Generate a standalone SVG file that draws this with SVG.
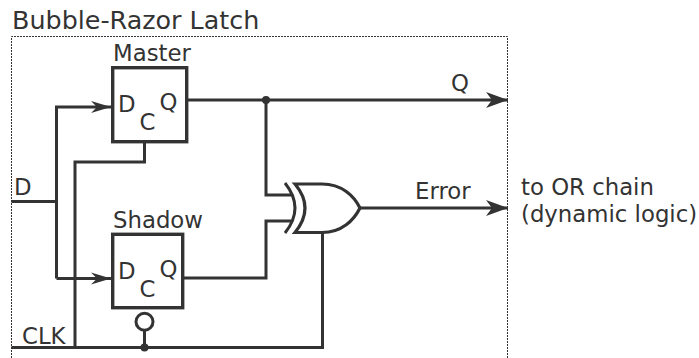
<svg xmlns="http://www.w3.org/2000/svg" width="699" height="358" viewBox="0 0 699 358">
<defs>
<style>
text{font-family:"DejaVu Sans","Liberation Sans",sans-serif;fill:#333;font-size:22.8px}
.w{fill:none;stroke:#333;stroke-width:3;stroke-linejoin:miter}
.box{fill:#fff;stroke:#333;stroke-width:3.4}
.dot{fill:#333}
</style>
<marker id="big" markerUnits="userSpaceOnUse" markerWidth="30" markerHeight="20" viewBox="-24 -10 26 20" refX="0" refY="0" orient="auto">
<path d="M0,0 L-22,-8 L-16,0 L-22,8 Z" fill="#333"/>
</marker>
<marker id="small" markerUnits="userSpaceOnUse" markerWidth="26" markerHeight="16" viewBox="-22 -8 24 16" refX="0" refY="0" orient="auto">
<path d="M0,0 L-20,-6 L-14,0 L-20,6 Z" fill="#333"/>
</marker>
</defs>
<rect width="699" height="358" fill="#fff"/>
<text x="12" y="29" style="font-size:25.4px">Bubble-Razor Latch</text>
<path d="M11.5,370 V36.5 H507.5 V370" fill="none" stroke="#333" stroke-width="1" stroke-dasharray="2,1"/>

<g id="connectors">
<path class="w" d="M11.5,201.5 H56.5"/>
<path class="w" d="M56.5,278.5 V107 H111" marker-end="url(#small)" stroke-width="2.8"/>
<path class="w" d="M56.5,278.5 H111" marker-end="url(#small)" stroke-width="2.8"/>
<path class="w" d="M144.5,142 V162 H75 V347.5"/>
<path class="w" d="M11.5,347.5 H322.5 V232"/>
<path class="w" d="M144.5,330 V347.5"/>
<path class="w" d="M186.5,100 H508" marker-end="url(#big)"/>
<path class="w" d="M266,100 V195 H292"/>
<path class="w" d="M182.5,278 H266 V221 H292"/>
<path class="w" d="M360,208 H508" marker-end="url(#big)"/>
<circle class="dot" cx="266" cy="100" r="4"/>
<circle class="dot" cx="144.5" cy="347.5" r="4"/>
</g>

<g id="master">
<rect class="box" x="112.7" y="67.7" width="74" height="74"/>
<text x="113" y="61">Master</text>
<text x="118" y="111.5">D</text>
<text x="139.5" y="130">C</text>
<text x="159.5" y="109.5">Q</text>
</g>

<g id="shadow">
<rect class="box" x="112.7" y="234.3" width="70" height="73.4"/>
<text x="113" y="227.5">Shadow</text>
<text x="118" y="278.5">D</text>
<text x="139.5" y="296.5">C</text>
<text x="159.5" y="276.5">Q</text>
<circle cx="144.5" cy="321.7" r="8.5" fill="#fff" stroke="#333" stroke-width="3"/>
</g>

<g id="xor">
<path class="w" d="M285,183 Q305,208 285,233" stroke-width="3.2"/>
<path d="M295,184 L322,184 C342,184 354,196 360,208 C354,220 342,232.5 322,232.5 L295,232.5 Q315,208 295,184 Z" fill="#fff" stroke="#333" stroke-width="3.2"/>
</g>

<g id="labels">
<text x="14" y="195">D</text>
<text x="22" y="344">CLK</text>
<text x="451" y="91">Q</text>
<text x="415" y="199">Error</text>
<text x="521" y="195">to OR chain</text>
<text x="521" y="221.5">(dynamic logic)</text>
</g>
</svg>
